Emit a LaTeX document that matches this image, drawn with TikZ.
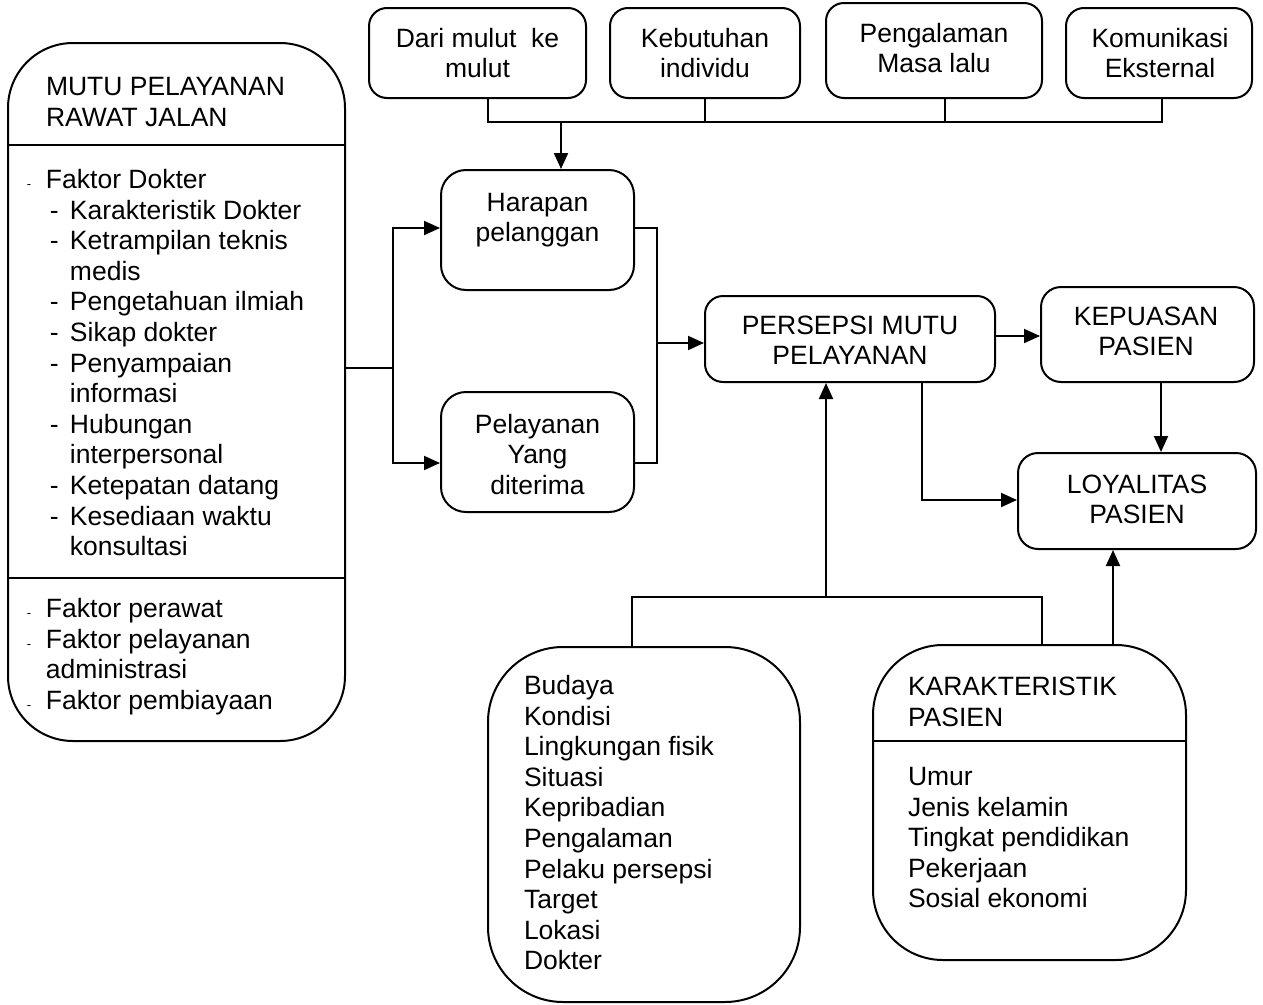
\documentclass[tikz,border=0pt]{standalone}
\usepackage{fontspec}
\setmainfont{Liberation Sans}
\usetikzlibrary{arrows.meta}
\begin{document}
\begin{tikzpicture}[x=1pt,y=-1pt,
  font=\fontsize{26.5}{30.6}\selectfont,
  line width=2pt,
  box/.style={draw, rounded corners=#1, inner sep=0pt},
  lbl/.style={inner sep=0pt, align=center, anchor=base},
  lst/.style={inner sep=0pt, align=left, anchor=base west},
  arr/.style={-{Triangle[length=16pt,width=14pt]}}]
\useasboundingbox (0,0) rectangle (1263,1004);
% note: a multi-line node's base is the baseline of its last line

% sources of expectation
\node[box=18pt, minimum width=217pt, minimum height=90pt] (dari) at (477.5,53) {};
\node[lbl] (dari-t) at (477.5,77.6) {Dari mulut\ \ ke\\mulut};
\node[box=18pt, minimum width=190pt, minimum height=90pt] (kebutuhan) at (705,53) {};
\node[lbl] (kebutuhan-t) at (705,77.6) {Kebutuhan\\individu};
\node[box=18pt, minimum width=216pt, minimum height=95pt] (pengalaman) at (934,50.5) {};
\node[lbl] (pengalaman-t) at (934,72.6) {Pengalaman\\Masa lalu};
\node[box=18pt, minimum width=186pt, minimum height=90pt] (komunikasi) at (1159,53) {};
\node[lbl] (komunikasi-t) at (1160,77.6) {Komunikasi\\Eksternal};

% middle column
\node[box=25pt, minimum width=193pt, minimum height=120pt] (harapan) at (537.5,230) {};
\node[lbl] (harapan-t) at (537.5,241.6) {Harapan\\pelanggan};
\node[box=25pt, minimum width=193pt, minimum height=120pt] (pelayanan) at (537.5,452) {};
\node[lbl] (pelayanan-t) at (537.5,494.2) {Pelayanan\\Yang\\diterima};

% outcomes
\node[box=18pt, minimum width=290pt, minimum height=86pt] (persepsi) at (850,339) {};
\node[lbl] (persepsi-t) at (850,364.6) {PERSEPSI MUTU\\PELAYANAN};
\node[box=20pt, minimum width=213pt, minimum height=95pt] (kepuasan) at (1147.5,334.5) {};
\node[lbl] (kepuasan-t) at (1146,355.6) {KEPUASAN\\PASIEN};
\node[box=20pt, minimum width=238pt, minimum height=96pt] (loyalitas) at (1137,501) {};
\node[lbl] (loyalitas-t) at (1137,523.6) {LOYALITAS\\PASIEN};

% service quality panel
\node[box=65pt, minimum width=337pt, minimum height=698pt] (mutu) at (176.5,392) {};
\node[lst] (mutu-t) at (45,126.1) {MUTU PELAYANAN\\RAWAT JALAN};
\node[lst] (mutu-a) at (26,555.7) {%
\makebox[19pt][l]{\fontsize{13}{13}\selectfont -}Faktor Dokter\\
\hspace*{23pt}\makebox[20pt][l]{-}Karakteristik Dokter\\
\hspace*{23pt}\makebox[20pt][l]{-}Ketrampilan teknis\\
\hspace*{43pt}medis\\
\hspace*{23pt}\makebox[20pt][l]{-}Pengetahuan ilmiah\\
\hspace*{23pt}\makebox[20pt][l]{-}Sikap dokter\\
\hspace*{23pt}\makebox[20pt][l]{-}Penyampaian\\
\hspace*{43pt}informasi\\
\hspace*{23pt}\makebox[20pt][l]{-}Hubungan\\
\hspace*{43pt}interpersonal\\
\hspace*{23pt}\makebox[20pt][l]{-}Ketepatan datang\\
\hspace*{23pt}\makebox[20pt][l]{-}Kesediaan waktu\\
\hspace*{43pt}konsultasi};
\node[lst] (mutu-b) at (26,709.3) {%
\makebox[19pt][l]{\fontsize{13}{13}\selectfont -}Faktor perawat\\
\makebox[19pt][l]{\fontsize{13}{13}\selectfont -}Faktor pelayanan\\
\hspace*{19pt}administrasi\\
\makebox[19pt][l]{\fontsize{13}{13}\selectfont -}Faktor pembiayaan};

% perception factors
\node[box=75pt, minimum width=312pt, minimum height=355pt] (budaya) at (644,824.5) {};
\node[lst] (budaya-t) at (523,969.9) {Budaya\\Kondisi\\Lingkungan fisik\\Situasi\\Kepribadian\\Pengalaman\\Pelaku persepsi\\Target\\Lokasi\\Dokter};

% patient characteristics
\node[box=70pt, minimum width=313pt, minimum height=315pt] (karak) at (1029.5,802.5) {};
\node[lst] (karak-t) at (907,726.1) {KARAKTERISTIK\\PASIEN};
\node[lst] (karak-b) at (907,907.9) {Umur\\Jenis kelamin\\Tingkat pendidikan\\Pekerjaan\\Sosial ekonomi};

% guide coordinates
\coordinate (busT) at (0,122);
\coordinate (busB) at (0,597);
\coordinate (y145) at (0,145);
\coordinate (y578) at (0,578);
\coordinate (y741) at (0,741);
\coordinate (lb) at (393,368);
\coordinate (rb) at (657,343);
\coordinate (yh) at (0,228);
\coordinate (yp) at (0,463);
\coordinate (yk) at (0,336);
\coordinate (yl) at (0,500);
\coordinate (xk) at (1161,0);
\coordinate (xp) at (922,0);
\coordinate (xu) at (826,0);
\coordinate (xb) at (632,0);
\coordinate (xc) at (1042,0);
\coordinate (xl) at (1113,0);
\coordinate (d1) at ([xshift=10.5pt]dari.south);
\coordinate (d2) at (kebutuhan.south);
\coordinate (d3) at ([xshift=11pt]pengalaman.south);
\coordinate (d4) at ([xshift=3pt]komunikasi.south);
\coordinate (hT) at ([xshift=23.5pt]harapan.north);

% panel dividers
\draw (mutu.west |- y145) -- (mutu.east |- y145);
\draw (mutu.west |- y578) -- (mutu.east |- y578);
\draw (karak.west |- y741) -- (karak.east |- y741);

% connectors
\draw (d1) -- (d1 |- busT) -- (d4 |- busT) -- (d4);
\draw (d2) -- (d2 |- busT);
\draw (d3) -- (d3 |- busT);
\draw[arr] (hT |- busT) -- (hT);

\draw (mutu.east |- lb) -- (lb);
\draw[arr] (lb) |- (harapan.west |- yh);
\draw[arr] (lb) |- (pelayanan.west |- yp);

\draw (harapan.east |- yh) -| (rb);
\draw (pelayanan.east |- yp) -| (rb);
\draw[arr] (rb) -- (persepsi.west |- rb);

\draw[arr] (persepsi.east |- yk) -- (kepuasan.west |- yk);
\draw[arr] (kepuasan.south -| xk) -- (loyalitas.north -| xk);
\draw[arr] (persepsi.south -| xp) |- (loyalitas.west |- yl);

\draw (budaya.north -| xb) -- (xb |- busB) -- (xc |- busB) -- (karak.north -| xc);
\draw[arr] (xu |- busB) -- (persepsi.south -| xu);
\draw[arr] (karak.north -| xl) -- (loyalitas.south -| xl);
\end{tikzpicture}
\end{document}
